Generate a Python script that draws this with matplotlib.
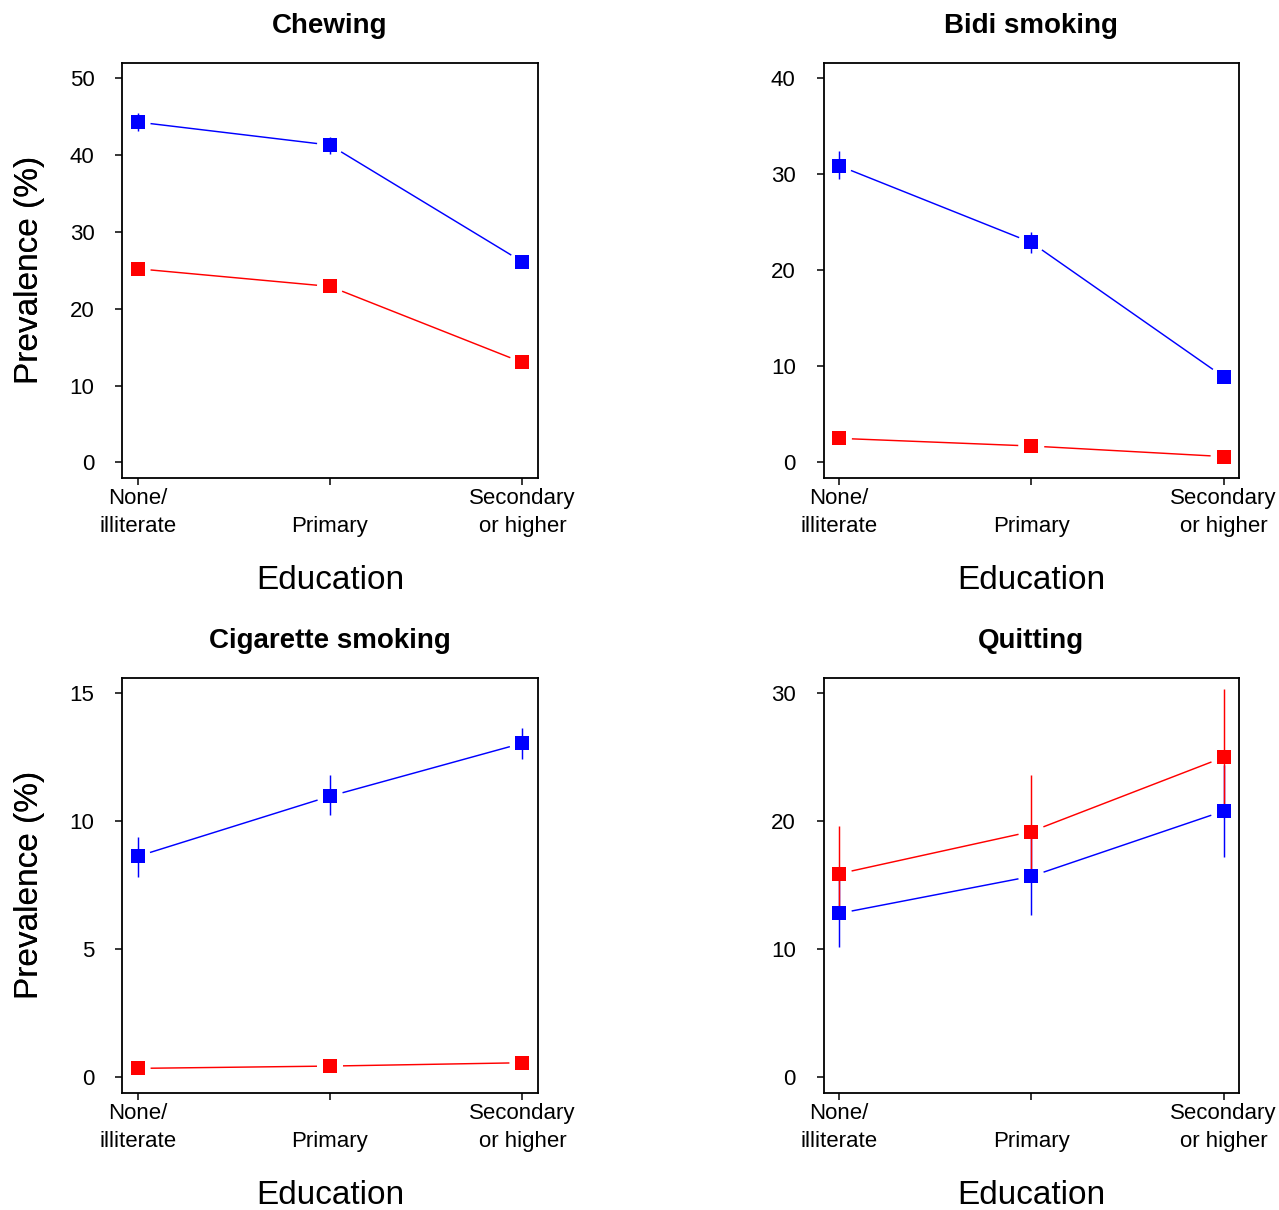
import matplotlib
matplotlib.use("Agg")
import matplotlib.pyplot as plt
import numpy as np

plt.rcParams["font.family"] = ["Liberation Sans", "DejaVu Sans"]

# education levels on the x axis
education = ["None/\nilliterate", "\nPrimary", "Secondary\nor higher"]

# panel titles and y ticks
titles = ["Chewing", "Bidi smoking", "Cigarette smoking", "Quitting"]
yticks = [[0, 10, 20, 30, 40, 50], [0, 10, 20, 30, 40], [0, 5, 10, 15], [0, 10, 20, 30]]

# blue series: estimate, lower, upper
chew_blue = [44.3, 41.3, 26.1]
chew_blue_lo = [43.1, 40.1, 25.5]
chew_blue_hi = [45.5, 42.3, 26.7]
bidi_blue = [30.9, 22.9, 8.9]
bidi_blue_lo = [29.5, 21.8, 8.5]
bidi_blue_hi = [32.4, 24.0, 9.3]
cig_blue = [8.63, 10.98, 13.05]
cig_blue_lo = [7.84, 10.25, 12.43]
cig_blue_hi = [9.40, 11.80, 13.63]
quit_blue = [12.8, 15.7, 20.8]
quit_blue_lo = [10.2, 12.7, 17.2]
quit_blue_hi = [15.4, 18.7, 24.4]

# red series: estimate, lower, upper
chew_red = [25.2, 22.9, 13.0]
chew_red_lo = [24.7, 22.3, 12.6]
chew_red_hi = [25.7, 23.5, 13.4]
bidi_red = [2.5, 1.7, 0.6]
bidi_red_lo = [2.1, 1.4, 0.5]
bidi_red_hi = [2.9, 2.0, 0.7]
cig_red = [0.35, 0.44, 0.57]
cig_red_lo = [0.28, 0.36, 0.47]
cig_red_hi = [0.42, 0.52, 0.67]
quit_red = [15.9, 19.2, 25.0]
quit_red_lo = [12.5, 15.3, 20.4]
quit_red_hi = [19.6, 23.6, 30.3]

blue_sets = [(chew_blue, chew_blue_lo, chew_blue_hi), (bidi_blue, bidi_blue_lo, bidi_blue_hi),
             (cig_blue, cig_blue_lo, cig_blue_hi), (quit_blue, quit_blue_lo, quit_blue_hi)]
red_sets = [(chew_red, chew_red_lo, chew_red_hi), (bidi_red, bidi_red_lo, bidi_red_hi),
            (cig_red, cig_red_lo, cig_red_hi), (quit_red, quit_red_lo, quit_red_hi)]

W, H = 1279, 1210
fig = plt.figure(figsize=(W / 100, H / 100), dpi=100)

# axes boxes in pixels: left, top, right, bottom
boxes = [(122.2, 62.9, 537.8, 477.7), (823.5, 62.9, 1239.0, 477.7),
         (122.2, 677.9, 537.8, 1092.7), (823.5, 677.9, 1239.0, 1092.7)]

GAP = 13  # px gap between line and point (R type="b")


def gapped_line(ax, x, y, color):
    pts = ax.transData.transform(np.column_stack([x, y]))
    inv = ax.transData.inverted()
    for i in range(len(pts) - 1):
        p0, p1 = pts[i], pts[i + 1]
        d = p1 - p0
        n = np.hypot(*d)
        if n <= 2 * GAP:
            continue
        u = d / n
        a = inv.transform(p0 + u * GAP)
        b = inv.transform(p1 - u * GAP)
        ax.plot([a[0], b[0]], [a[1], b[1]], color=color, lw=1.05, solid_capstyle="butt")


xs = np.arange(1, 4)
for k, (l, t, r, b) in enumerate(boxes):
    ax = fig.add_axes([l / W, 1 - b / H, (r - l) / W, (b - t) / H])
    yt = yticks[k]
    pad = 0.04 * (yt[-1] - yt[0])
    ax.set_xlim(1 - 0.08, 3 + 0.08)
    ax.set_ylim(yt[0] - pad, yt[-1] + pad)

    for (est, lo, hi), col in [(blue_sets[k], "#0000ff"), (red_sets[k], "#ff0000")]:
        gapped_line(ax, xs, est, col)
        ax.vlines(xs, lo, hi, color=col, lw=1.05)
        ax.plot(xs, est, "s", color=col, ms=10.3, mew=0, zorder=3)

    ax.set_yticks(yt)
    ax.set_xticks(xs)
    ax.set_xticklabels(education, linespacing=1.4)
    ax.tick_params(axis="both", direction="out", length=5, width=1.1, labelsize=16, colors="black")
    ax.tick_params(axis="y", pad=15)
    ax.tick_params(axis="x", pad=2.5)
    for lbl in ax.get_yticklabels():
        lbl.set_va("center_baseline")
    for s in ax.spines.values():
        s.set_linewidth(1.3)

    ax.text(0.5, 1.089, titles[k], transform=ax.transAxes, ha="center", va="center",
            fontsize=20, fontweight="bold")
    ax.text(0.5, -0.247, "Education", transform=ax.transAxes, ha="center", va="center",
            fontsize=24)
    ax.text((30 - l) / (r - l), 0.5, "Prevalence (%)", transform=ax.transAxes, rotation=90,
            ha="center", va="center", fontsize=24)

fig.savefig("out.png", dpi=100, facecolor="white")
